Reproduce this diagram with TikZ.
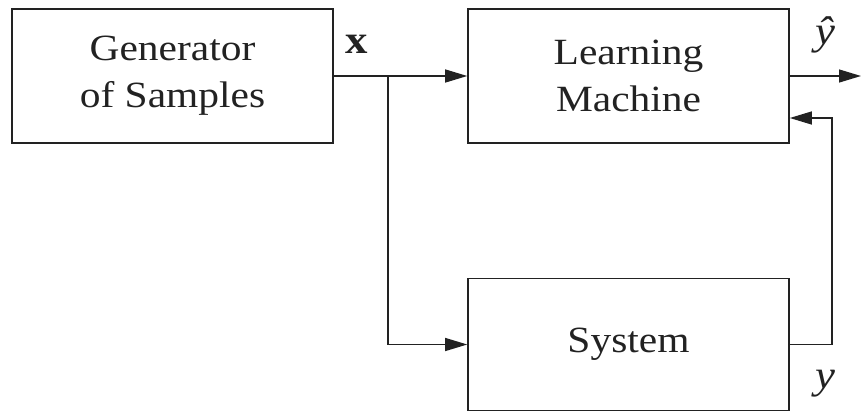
\documentclass[tikz,border=0pt]{standalone}
\usepackage{fontspec}
\setmainfont[FakeStretch=1.12]{Liberation Serif}
\usetikzlibrary{arrows.meta}
\definecolor{ink}{HTML}{222222}
\begin{document}
\begin{tikzpicture}[x=1pt,y=-1pt,
  blk/.style={draw=ink, line width=1.6pt, minimum width=321pt, minimum height=134pt,
    inner sep=0pt, align=center, text=ink, font=\fontsize{37}{47}\selectfont},
  conn/.style={draw=ink, line width=1.3pt},
  arr/.style={conn, -{Triangle[length=22pt,width=13pt]}},
  lbl/.style={font=\fontsize{40}{44}\selectfont, inner sep=0pt, text=ink}]
\useasboundingbox (0,0) rectangle (861,412);
\node[blk] (gen) at (172.5,76) {Generator\\of Samples};
\node[blk] (lm) at (628.5,76) {Learning\\Machine};
\node[blk, minimum height=132pt] (sys) at (628.5,344.5) {System};
\coordinate (br) at (388,76);
\coordinate (out) at (861,76);
\coordinate (fb) at (832,118);
\draw[arr] (gen.east) -- (lm.west);
\draw[arr] (br) |- (sys.west);
\draw[arr] (lm.east) -- (out);
\draw[arr] (sys.east) -| (fb) -- (lm.east |- fb);
\node[lbl] (xl) at (357,44) {\textbf{x}};
\node[lbl] (yh) at (825,35) {\textit{\^y}};
\node[lbl] (yl) at (825,384) {\textit{y}};
\end{tikzpicture}
\end{document}
